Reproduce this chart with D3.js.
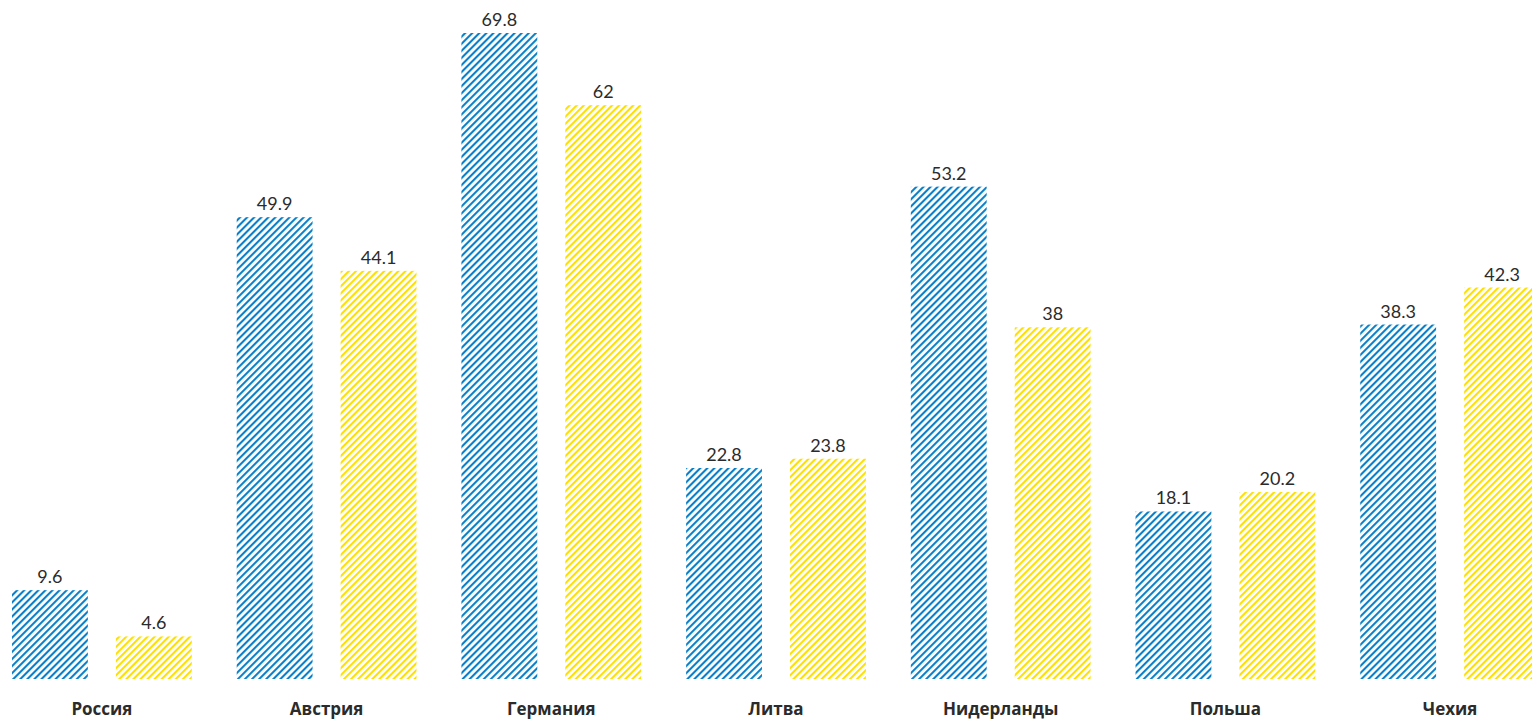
<!DOCTYPE html>
<html>
<head>
<meta charset="utf-8">
<script src="https://cdn.jsdelivr.net/npm/d3@7"></script>
<style>
    body { margin: 0; background: #fff; }
    .value { font-family: Lato, "Noto Sans", sans-serif; font-size: 18px; fill: #2b2b2b; }
    .cat { font-family: "Open Sans", "Noto Sans", sans-serif; font-size: 17px; font-weight: 700; fill: #2b2b2b; }
</style>
</head>
<body>
<div id="chart"></div>
<script>
// data
const countries = ['Россия', 'Австрия', 'Германия', 'Литва', 'Нидерланды', 'Польша', 'Чехия']
const seriesA = [9.6, 49.9, 69.8, 22.8, 53.2, 18.1, 38.3]
const seriesB = [4.6, 44.1, 62, 23.8, 38, 20.2, 42.3]
const seriesKeys = ['a', 'b']
const seriesColors = {a: '#0b80c8', b: '#ffdf00'}

let width = 1532, height = 720

let svg = d3.select('#chart').append('svg')
    .attr('width', width)
    .attr('height', height)

// hatch patterns
let defs = svg.append('defs')
seriesKeys.forEach(k => {
    defs.append('pattern')
        .attr('id', 'hatch-' + k)
        .attr('patternUnits', 'userSpaceOnUse')
        .attr('width', 5)
        .attr('height', 5)
        .attr('patternTransform', 'rotate(45)')
        .append('rect')
        .attr('x', 0).attr('y', 0)
        .attr('width', 2.1).attr('height', 5)
        .attr('fill', seriesColors[k])
})

let data = countries.map((c, i) => ({country: c, a: seriesA[i], b: seriesB[i]}))

// scales
let x0 = d3.scaleBand()
    .domain(countries)
    .range([12, 1540])
    .paddingInner(0.2)
    .paddingOuter(0)

let x1 = d3.scaleBand()
    .domain(seriesKeys)
    .range([0, x0.bandwidth()])
    .paddingInner(0.27)

let y = d3.scaleLinear()
    .domain([0, 69.8])
    .range([679, 33])

let groups = svg.selectAll('.group')
    .data(data)
    .enter()
    .append('g')
    .attr('class', 'group')
    .attr('transform', d => `translate(${x0(d.country)},0)`)

seriesKeys.forEach(k => {
    groups.append('rect')
        .attr('x', x1(k))
        .attr('y', d => y(d[k]))
        .attr('width', x1.bandwidth())
        .attr('height', d => y(0) - y(d[k]))
        .attr('fill', `url(#hatch-${k})`)

    groups.append('text')
        .attr('class', 'value')
        .attr('x', x1(k) + x1.bandwidth() / 2)
        .attr('y', d => y(d[k]) - 7)
        .attr('text-anchor', 'middle')
        .text(d => d[k])
})

// category axis
let xAxis = svg.append('g')
    .attr('transform', `translate(0, ${y(0)})`)
    .call(d3.axisBottom(x0).tickSize(0).tickPadding(24))
xAxis.select('.domain').remove()
xAxis.selectAll('text').attr('class', 'cat').attr('fill', null)
</script>
</body>
</html>
